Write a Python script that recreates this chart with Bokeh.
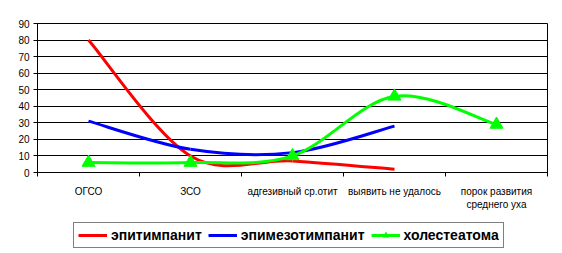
import numpy as np
from bokeh.plotting import figure
from bokeh.layouts import column
from bokeh.models import FixedTicker, Legend, LegendItem, Range1d
from bokeh.embed import file_html
from bokeh.resources import INLINE

# ---- data ----
categories = ["ОГСО", "ЗСО", "адгезивный ср.отит", "выявить не удалось", "порок развития\nсреднего уха"]
epitympanitis = [80, 10, 7, 2]
epimesotympanitis = [31, 14, 12, 28]
cholesteatoma = [6, 6, 10, 46, 29]
series_names = ["эпитимпанит", "эпимезотимпанит", "холестеатома"]
y_ticks = [0, 10, 20, 30, 40, 50, 60, 70, 80, 90]

RED, BLUE, GREEN = "#FF0000", "#0000FF", "#00FF00"
FONT = "Liberation Sans"


def smooth(xs, ys, t=1 / 6):
    """Catmull-Rom style Bezier control points (Excel-like smoothed line)."""
    xs = np.asarray(xs, float)
    ys = np.asarray(ys, float)
    n = len(xs)
    d = dict(x0=[], y0=[], x1=[], y1=[], cx0=[], cy0=[], cx1=[], cy1=[])
    for i in range(n - 1):
        p0 = i - 1 if i > 0 else i
        p3 = i + 2 if i + 2 < n else i + 1
        d["x0"].append(xs[i]); d["y0"].append(ys[i])
        d["x1"].append(xs[i + 1]); d["y1"].append(ys[i + 1])
        d["cx0"].append(xs[i] + (xs[i + 1] - xs[p0]) * t)
        d["cy0"].append(ys[i] + (ys[i + 1] - ys[p0]) * t)
        d["cx1"].append(xs[i + 1] - (xs[p3] - xs[i]) * t)
        d["cy1"].append(ys[i + 1] - (ys[p3] - ys[i]) * t)
    return d


xpos = [i + 0.5 for i in range(len(categories))]

p = figure(width=554, height=212, output_backend="svg", toolbar_location=None,
           x_range=Range1d(0, 5), y_range=Range1d(0, 90),
           min_border_left=37, min_border_top=23, min_border_right=7, min_border_bottom=39)
p.background_fill_color = "white"
p.border_fill_color = "white"
p.outline_line_color = "black"
p.outline_line_width = 1

series = [(epitympanitis, RED, False), (epimesotympanitis, BLUE, False), (cholesteatoma, GREEN, True)]
for vals, color, marker in series:
    xs = xpos[:len(vals)]
    d = smooth(xs, vals)
    p.bezier(x0=d["x0"], y0=d["y0"], x1=d["x1"], y1=d["y1"], cx0=d["cx0"], cy0=d["cy0"],
             cx1=d["cx1"], cy1=d["cy1"], line_color=color, line_width=3)
    if marker:
        p.scatter(x=xs, y=vals, marker="triangle", size=13, fill_color=GREEN, line_color=GREEN)

# grid
p.xgrid.visible = False
p.ygrid.ticker = FixedTicker(ticks=y_ticks)
p.ygrid.grid_line_color = "black"
p.ygrid.grid_line_width = 1

# y axis
p.yaxis.ticker = FixedTicker(ticks=y_ticks)
p.yaxis.axis_line_color = "black"
p.yaxis.major_tick_line_color = "black"
p.yaxis.major_tick_out = 4
p.yaxis.major_tick_in = 0
p.yaxis.minor_tick_line_color = None
p.yaxis.major_label_text_font = FONT
p.yaxis.major_label_text_font_size = "10px"
p.yaxis.major_label_text_color = "black"
p.yaxis.major_label_standoff = 4

# x axis
p.xaxis.ticker = FixedTicker(ticks=xpos, minor_ticks=[0, 1, 2, 3, 4, 5])
p.xaxis.major_label_overrides = {float(x): c for x, c in zip(xpos, categories)}
p.xaxis.axis_line_color = "black"
p.xaxis.major_tick_line_color = None
p.xaxis.major_tick_out = 0
p.xaxis.major_tick_in = 0
p.xaxis.minor_tick_line_color = "black"
p.xaxis.minor_tick_out = 4
p.xaxis.minor_tick_in = 0
p.xaxis.major_label_text_font = FONT
p.xaxis.major_label_text_font_size = "10px"
p.xaxis.major_label_text_color = "black"
p.xaxis.major_label_standoff = 9

# ---- legend strip ----
p2 = figure(width=554, height=38, output_backend="svg", toolbar_location=None,
            x_range=Range1d(0, 1), y_range=Range1d(0, 1),
            x_axis_location=None, y_axis_location=None,
            min_border_left=0, min_border_right=0, min_border_top=0, min_border_bottom=0)
p2.grid.visible = False
p2.outline_line_color = None
p2.background_fill_color = "white"
p2.border_fill_color = "white"

items = []
for (vals, color, marker), name in zip(series, series_names):
    rs = [p2.line(x=[np.nan], y=[np.nan], line_color=color, line_width=3)]
    if marker:
        rs.append(p2.scatter(x=[np.nan], y=[np.nan], marker="triangle", size=9,
                             fill_color=GREEN, line_color=GREEN))
    items.append(LegendItem(label=name, renderers=rs))

legend = Legend(items=items, orientation="horizontal", location=(36, 2),
                border_line_color="black", border_line_width=1,
                background_fill_color="white", background_fill_alpha=1,
                label_text_font=FONT, label_text_font_style="bold",
                label_text_font_size="14px", label_text_color="black",
                glyph_width=29, glyph_height=14, label_standoff=4, spacing=6,
                padding=4, margin=0)
p2.add_layout(legend)

layout = column(p, p2, spacing=0)
open("out.html", "w").write(file_html(layout, INLINE))
